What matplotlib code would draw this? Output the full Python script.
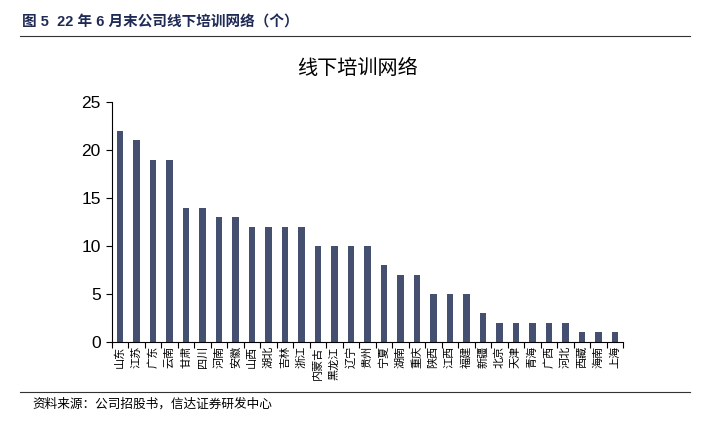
import matplotlib
matplotlib.use('Agg')
import matplotlib.pyplot as plt
import numpy as np

plt.rcParams['font.family'] = ['Noto Sans CJK SC', 'DejaVu Sans']

provinces = ['山东', '江苏', '广东', '云南', '甘肃', '四川', '河南', '安徽', '山西', '湖北',
             '吉林', '浙江', '内蒙古', '黑龙江', '辽宁', '贵州', '宁夏', '湖南', '重庆', '陕西',
             '江西', '福建', '新疆', '北京', '天津', '青海', '广西', '河北', '西藏', '海南', '上海']
counts = [22, 21, 19, 19, 14, 14, 13, 13, 12, 12,
          12, 12, 10, 10, 10, 10, 8, 7, 7, 5,
          5, 5, 3, 2, 2, 2, 2, 2, 1, 1, 1]
y_ticks = [0, 5, 10, 15, 20, 25]

fig = plt.figure(figsize=(7.03, 4.25), dpi=100)

# 상단 제목과 구분선
fig.text(22 / 703, 1 - 22 / 425, '图 5  22 年 6 月末公司线下培训网络（个）', fontsize=10.5,
         fontweight='bold', color='#1f2a55', va='center', ha='left',
         family=['Liberation Sans', 'Noto Sans CJK SC'])
fig.add_artist(plt.Line2D([20 / 703, 690 / 703], [1 - 36 / 425, 1 - 36 / 425],
                          color='#333333', lw=0.8))

ax = fig.add_axes([111.75 / 703, 1 - 342 / 425, 511.5 / 703, 240 / 425])
x = np.arange(len(provinces))
ax.bar(x, counts, width=0.38, color='#454f70')

ax.set_xlim(-0.5, len(provinces) - 0.5)
ax.set_ylim(0, 25)
ax.set_yticks(y_ticks)
ax.set_yticklabels([str(v) for v in y_ticks], family='Liberation Sans', fontsize=12.5)
ax.tick_params(axis='y', length=4, width=0.8, direction='out', pad=4)

ax.set_xticks(np.arange(-0.5, len(provinces), 1))
ax.set_xticklabels([])
ax.set_xticks(x, minor=True)
ax.set_xticklabels(provinces, minor=True, rotation=90, fontsize=8)
ax.tick_params(axis='x', which='major', length=4, width=0.8, direction='out')
ax.tick_params(axis='x', which='minor', length=0, pad=3)

for s in ['top', 'right']:
    ax.spines[s].set_visible(False)
for s in ['left', 'bottom']:
    ax.spines[s].set_linewidth(0.8)

fig.text(357 / 703, 1 - 68 / 425, '线下培训网络', fontsize=14.5, ha='center', va='center')

# 하단 출처
fig.add_artist(plt.Line2D([20 / 703, 690 / 703], [1 - 392 / 425, 1 - 392 / 425],
                          color='#333333', lw=0.8))
fig.text(32 / 703, 1 - 404 / 425, '资料来源：公司招股书，信达证券研发中心', fontsize=9.1,
         style='italic', ha='left', va='center')

fig.savefig('out.png', dpi=100)
